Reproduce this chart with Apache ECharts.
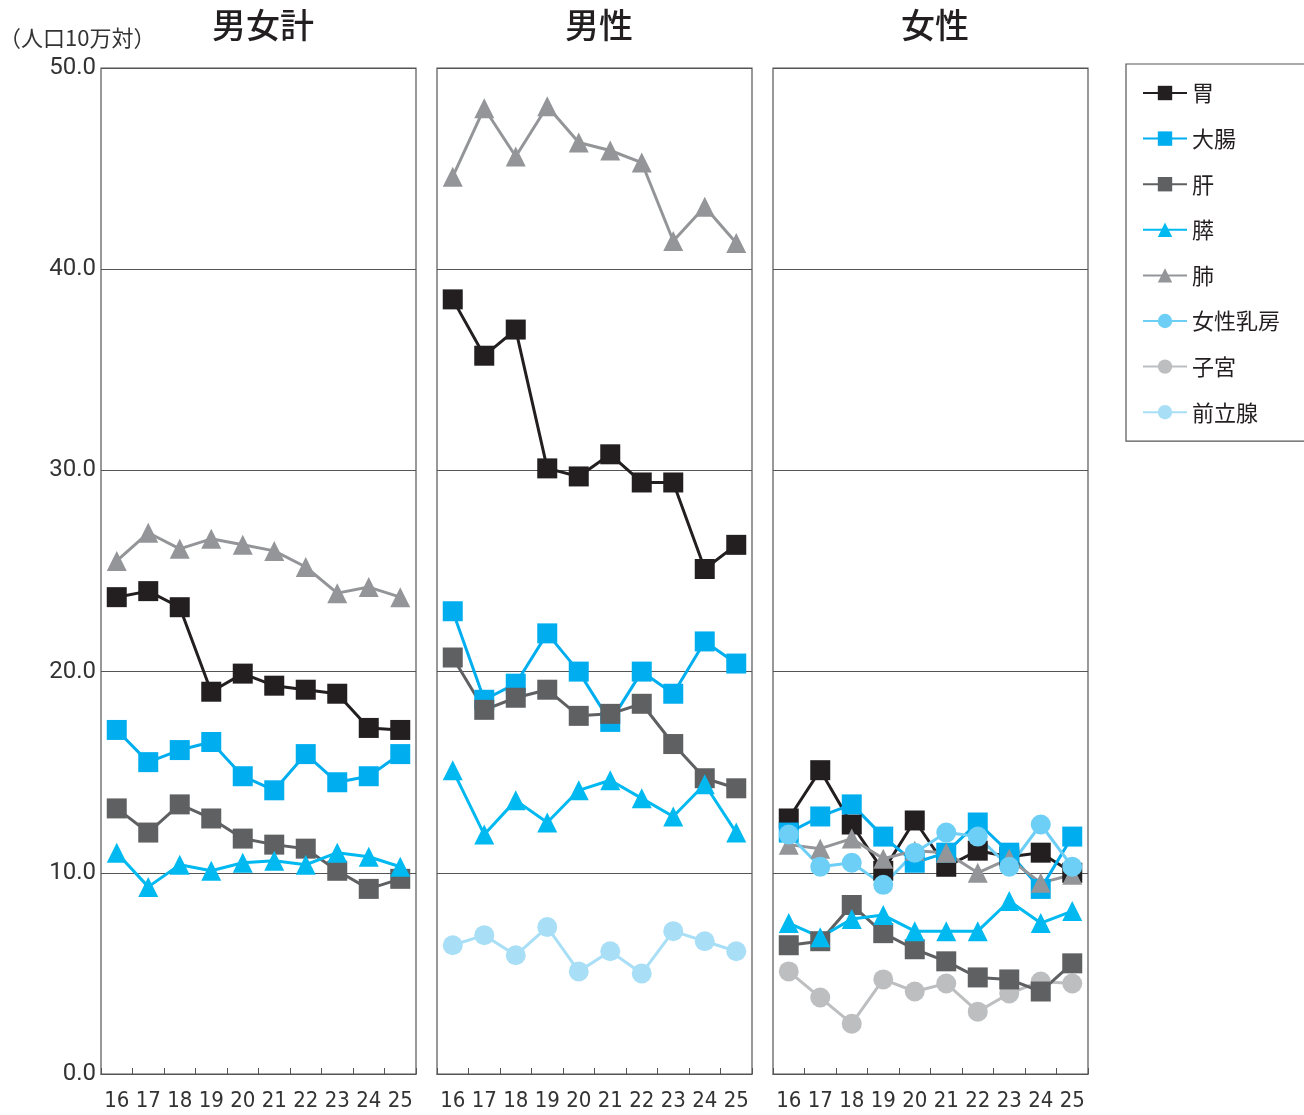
<!DOCTYPE html>
<html>
<head>
    <meta charset="utf-8">
    <title>部位別死亡率</title>
    <script src="https://cdn.jsdelivr.net/npm/echarts@6/dist/echarts.min.js"></script>
    <style>
        html, body { margin: 0; padding: 0; background: #fff; }
        #charts { width: 1304px; height: 1115px; }
    </style>
</head>
<body>
<div id="charts"></div>
<script>
    // 年度（H16〜H25）
    var years = ['16', '17', '18', '19', '20', '21', '22', '23', '24', '25'];
    var yTicks = [0, 10, 20, 30, 40, 50];

    // 男女計
    var total_stomach = [23.7, 24.0, 23.2, 19.0, 19.9, 19.3, 19.1, 18.9, 17.2, 17.1];
    var total_colon = [17.1, 15.5, 16.1, 16.5, 14.8, 14.1, 15.9, 14.5, 14.8, 15.9];
    var total_liver = [13.2, 12.0, 13.4, 12.7, 11.7, 11.4, 11.2, 10.1, 9.2, 9.7];
    var total_pancreas = [11.0, 9.3, 10.4, 10.1, 10.5, 10.6, 10.4, 11.0, 10.8, 10.3];
    var total_lung = [25.5, 26.9, 26.1, 26.6, 26.3, 26.0, 25.2, 23.9, 24.2, 23.7];

    // 男性
    var male_stomach = [38.5, 35.7, 37.0, 30.1, 29.7, 30.8, 29.4, 29.4, 25.1, 26.3];
    var male_colon = [23.0, 18.6, 19.4, 21.9, 20.0, 17.5, 20.0, 18.9, 21.5, 20.4];
    var male_liver = [20.7, 18.1, 18.7, 19.1, 17.8, 17.9, 18.4, 16.4, 14.7, 14.2];
    var male_pancreas = [15.1, 11.9, 13.6, 12.5, 14.1, 14.6, 13.7, 12.8, 14.4, 12.0];
    var male_lung = [44.6, 48.0, 45.6, 48.1, 46.3, 45.9, 45.3, 41.4, 43.1, 41.3];
    var male_prostate = [6.4, 6.9, 5.9, 7.3, 5.1, 6.1, 5.0, 7.1, 6.6, 6.1];

    // 女性
    var female_stomach = [12.7, 15.1, 12.4, 10.1, 12.6, 10.3, 11.1, 10.8, 11.0, 10.0];
    var female_colon = [12.0, 12.8, 13.4, 11.8, 10.5, 11.0, 12.5, 11.0, 9.2, 11.8];
    var female_liver = [6.4, 6.6, 8.4, 7.0, 6.2, 5.6, 4.8, 4.7, 4.1, 5.5];
    var female_pancreas = [7.5, 6.8, 7.7, 7.9, 7.1, 7.1, 7.1, 8.6, 7.5, 8.1];
    var female_lung = [11.4, 11.2, 11.7, 10.7, 11.1, 11.0, 10.0, 10.7, 9.5, 9.9];
    var female_breast = [11.9, 10.3, 10.5, 9.4, 11.0, 12.0, 11.8, 10.3, 12.4, 10.3];
    var female_uterus = [5.1, 3.8, 2.5, 4.7, 4.1, 4.5, 3.1, 4.0, 4.6, 4.5];

    var legendNames = ['胃', '大腸', '肝', '膵', '肺', '女性乳房', '子宮', '前立腺'];

    var styles = {
        '胃': {color: '#231f20', symbol: 'rect'},
        '大腸': {color: '#00aeef', symbol: 'rect'},
        '肝': {color: '#5f6062', symbol: 'rect'},
        '膵': {color: '#00b9f0', symbol: 'triangle'},
        '肺': {color: '#939598', symbol: 'triangle'},
        '女性乳房': {color: '#6dcff6', symbol: 'circle'},
        '子宮': {color: '#bcbec0', symbol: 'circle'},
        '前立腺': {color: '#a8dff7', symbol: 'circle'}
    };

    var panels = [
        {title: '男女計', left: 101, series: [
            ['胃', total_stomach], ['大腸', total_colon], ['肝', total_liver],
            ['膵', total_pancreas], ['肺', total_lung]]},
        {title: '男性', left: 437, series: [
            ['胃', male_stomach], ['大腸', male_colon], ['肝', male_liver],
            ['膵', male_pancreas], ['肺', male_lung], ['前立腺', male_prostate]]},
        {title: '女性', left: 773, series: [
            ['子宮', female_uterus], ['胃', female_stomach], ['大腸', female_colon], ['肝', female_liver],
            ['膵', female_pancreas], ['肺', female_lung], ['女性乳房', female_breast]]}
    ];

    var myChart = echarts.init(document.getElementById('charts'));

    var grids = [], xAxes = [], yAxes = [], series = [], titles = [];
    var lineColor = '#555';

    titles.push({
        text: '（人口10万対）', left: -6, top: 22,
        textStyle: {fontSize: 22, fontWeight: 'normal', color: '#333', fontFamily: 'Noto Sans CJK JP'}
    });

    panels.forEach(function (p, i) {
        grids.push({
            left: p.left, top: 68, width: 315, height: 1006,
            show: true, borderColor: lineColor, borderWidth: 1.2, backgroundColor: 'transparent'
        });
        titles.push({
            text: p.title, left: p.left + 157, top: 3, textAlign: 'center',
            textStyle: {fontSize: 34, fontWeight: 500, color: '#231f20', fontFamily: 'Noto Sans CJK JP'}
        });
        xAxes.push({
            type: 'category', gridIndex: i, data: years, boundaryGap: true,
            axisLine: {show: true, lineStyle: {color: lineColor, width: 1.2}},
            axisTick: {show: true, inside: true, length: 6, lineStyle: {color: lineColor}},
            axisLabel: {
                interval: 0, color: '#333', fontSize: 22, margin: 16,
                fontFamily: 'DejaVu Sans Condensed, Roboto, sans-serif'
            }
        });
        yAxes.push({
            type: 'value', gridIndex: i, min: 0, max: 50, interval: 10,
            axisLine: {show: false}, axisTick: {show: false},
            splitLine: {show: true, lineStyle: {color: lineColor, width: 1.2}},
            axisLabel: {
                show: i === 0, color: '#333', fontSize: 24, margin: 5,
                fontFamily: 'Roboto, sans-serif',
                formatter: function (v) { return v.toFixed(1); }
            }
        });
        p.series.forEach(function (s) {
            var st = styles[s[0]];
            series.push({
                name: s[0], type: 'line', xAxisIndex: i, yAxisIndex: i,
                data: s[1], symbol: st.symbol, symbolSize: 20,
                showSymbol: true,
                itemStyle: {color: st.color},
                lineStyle: {color: st.color, width: 3},
                animation: false
            });
        });
    });

    var option = {
        backgroundColor: '#fff',
        animation: false,
        title: titles,
        legend: {
            data: legendNames,
            orient: 'vertical',
            left: 1126, top: 64,
            width: 176,
            padding: [18, 58, 18, 16],
            borderColor: '#555', borderWidth: 1.2,
            itemWidth: 44, itemHeight: 18, itemGap: 23.6,
            textStyle: {fontSize: 22, color: '#231f20', fontFamily: 'Noto Sans CJK JP'}
        },
        grid: grids,
        xAxis: xAxes,
        yAxis: yAxes,
        series: series
    };

    myChart.setOption(option);
</script>
</body>
</html>
